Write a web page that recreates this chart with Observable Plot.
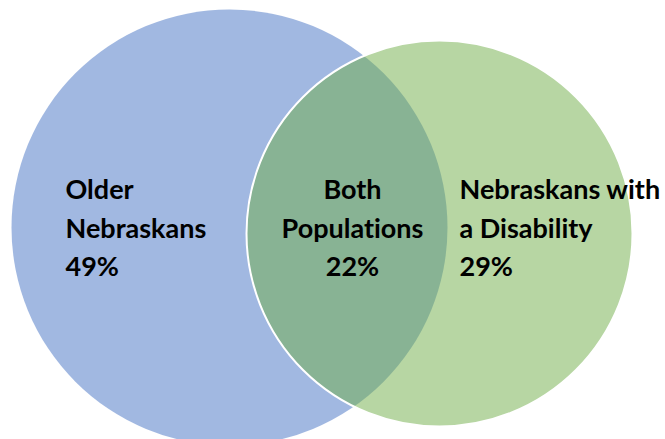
<!DOCTYPE html>
<html>
<head>
<meta charset="utf-8">
<script src="https://cdn.jsdelivr.net/npm/d3@7"></script>
<script src="https://cdn.jsdelivr.net/npm/@observablehq/plot@0.6"></script>
<style>
  html, body { margin: 0; padding: 0; background: #fff; }
  #chart svg { display: block; }
  #chart text { font-variant-ligatures: none; font-feature-settings: "liga" 0, "clig" 0; }
</style>
</head>
<body>
<div id="chart"></div>
<script>
// Data
const groups = ["Older Nebraskans", "Both Populations", "Nebraskans with a Disability"];
const labelLines = ["Older\nNebraskans", "Both\nPopulations", "Nebraskans with\na Disability"];
const shares = [49, 22, 29];

// Layout (geometry of the two sets, in pixel-like plot units)
const sets = [
  {name: "Older Nebraskans", cx: 229, cy: 227, r: 218, fill: "#4472C4", stroke: "none"},
  {name: "Nebraskans with a Disability", cx: 439, cy: 233, r: 193, fill: "#70AD47", stroke: "white"}
];
const labelLayout = [
  {x: 65, y: 225, anchor: "start"},
  {x: 352, y: 225, anchor: "middle"},
  {x: 459, y: 225, anchor: "start"}
];

const labels = groups.map((g, i) => ({
  text: labelLines[i] + "\n" + shares[i] + "%",
  ...labelLayout[i]
}));

const font = "Lato, 'Open Sans', sans-serif";
const textStyle = {x: "x", y: "y", text: "text", lineAnchor: "middle",
  lineHeight: 1.43, fontSize: 27, fontWeight: "bold", fill: "black"};

const chart = Plot.plot({
  width: 665,
  height: 439,
  margin: 0,
  x: {domain: [0, 665], range: [0, 665], axis: null},
  y: {domain: [0, 439], range: [0, 439], axis: null},
  r: {type: "identity"},
  style: {fontFamily: font, background: "white", overflow: "visible"},
  marks: [
    Plot.dot(sets, {x: "cx", y: "cy", r: "r", fill: "fill", fillOpacity: 0.5, stroke: "stroke", strokeWidth: 2}),
    Plot.text(labels.filter(d => d.anchor === "start"), {...textStyle, textAnchor: "start"}),
    Plot.text(labels.filter(d => d.anchor === "middle"), {...textStyle, textAnchor: "middle"})
  ]
});
document.getElementById("chart").appendChild(chart);
</script>
</body>
</html>
